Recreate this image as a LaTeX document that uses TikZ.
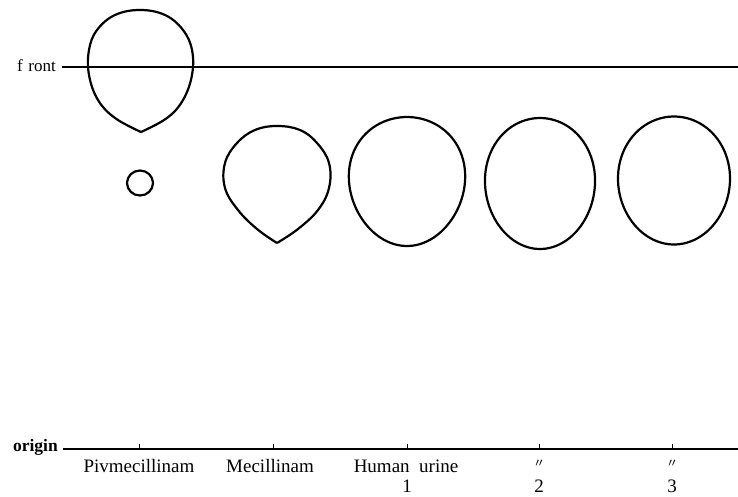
\documentclass[tikz,border=0pt]{standalone}
\usepackage{fontspec}
\setmainfont{Liberation Serif}
\newfontfamily\cjkfont{Noto Sans CJK JP}
\begin{document}
\begin{tikzpicture}[x=1pt,y=-1pt,
  spot/.style={line width=2.2pt,line join=round},
  axis/.style={line width=1.3pt},
  lab/.style={font=\fontsize{19}{19}\selectfont,inner sep=0pt},
  side/.style={font=\fontsize{17}{17}\selectfont,inner sep=0pt,anchor=east}]
\useasboundingbox (0,0) rectangle (738,496);
% front and origin lines
\coordinate (fs) at (62,67); \coordinate (fe) at (738,67);
\coordinate (os) at (63,449); \coordinate (oe) at (738,449);
\node[side] (front) at (56,66) {f\,\,ront};
\node[side,font=\bfseries\fontsize{17.5}{17.5}\selectfont] (origin) at (58,447) {origin};
\draw[axis] (fs) -- (fe);
\draw[axis] (os) -- (oe);
% ticks
\foreach \x/\n in {139/t1,273/t2,407/t3,539/t4,672/t5}{
  \coordinate (\n) at (\x,449);
  \draw[line width=1pt] (\n) -- ++(0,-5);
}
% labels
\node[lab] (l1) at (139,466) {Pivmecillinam};
\node[lab] (l2) at (270,466) {Mecillinam};
\node[lab] (l3) at (406,466) {Human\ \ urine};
\node[lab,font=\cjkfont\fontsize{12}{12}\selectfont] (l4) at (539,464) {〃};
\node[lab,font=\cjkfont\fontsize{12}{12}\selectfont] (l5) at (672,464) {〃};
\node[lab] (n1) at (407,486) {1};
\node[lab] (n2) at (539,486) {2};
\node[lab] (n3) at (672,486) {3};
% spot 1 (Pivmecillinam, at front)
\draw[spot] plot[smooth,tension=0.65] coordinates {(141,132) (115,118) (98,100) (89,75) (89,50) (97,30) (115,15) (140,10) (165,15) (183,30) (192,50) (192,75) (183,100) (167,118) (141,132)};
% small spot
\draw[spot] (140,183) ellipse (13 and 12.5);
% spot 2 (Mecillinam)
\draw[spot] plot[smooth,tension=0.65] coordinates {(277,243) (257,229) (238,210) (225,188) (225,163) (237,143) (255,130) (277,126) (300,130) (317,143) (329,163) (329,188) (318,210) (298,229) (277,243)};
% spot 3
\draw[spot] plot[domain=0:356,samples=90,smooth cycle] ({407+58*cos(\x)*(1-0.08*sin(\x))},{181.5+64.5*sin(\x)});
% spot 4
\draw[spot] plot[domain=0:356,samples=90,smooth cycle] ({540+55*cos(\x)*(1-0.04*sin(\x))},{183.5+65.5*sin(\x)});
% spot 5
\draw[spot] plot[domain=0:356,samples=90,smooth cycle] ({674+56*cos(\x)*(1-0.03*sin(\x))},{180.5+64*sin(\x)});
\end{tikzpicture}
\end{document}
